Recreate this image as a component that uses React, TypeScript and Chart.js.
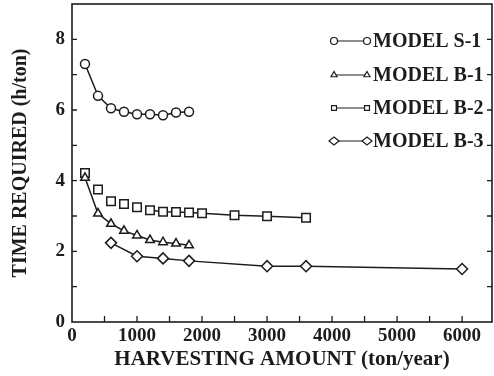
import React, { useEffect, useRef } from "react";
import { Chart, registerables } from "chart.js";

Chart.register(...registerables);

const seriesNames = ["MODEL S-1", "MODEL B-1", "MODEL B-2", "MODEL B-3"];
const pointStyles = ["circle", "triangle", "rect", "rectRot"];

const xS1 = [200, 400, 600, 800, 1000, 1200, 1400, 1600, 1800];
const yS1 = [7.3, 6.4, 6.05, 5.95, 5.88, 5.88, 5.85, 5.93, 5.95];

const xB1 = [200, 400, 600, 800, 1000, 1200, 1400, 1600, 1800];
const yB1 = [4.08, 3.07, 2.78, 2.58, 2.45, 2.32, 2.26, 2.22, 2.17];

const xB2 = [200, 400, 600, 800, 1000, 1200, 1400, 1600, 1800, 2000, 2500, 3000, 3600];
const yB2 = [4.22, 3.75, 3.42, 3.34, 3.25, 3.16, 3.12, 3.11, 3.1, 3.08, 3.02, 2.99, 2.95];

const xB3 = [600, 1000, 1400, 1800, 3000, 3600, 6000];
const yB3 = [2.24, 1.86, 1.8, 1.73, 1.58, 1.58, 1.5];

const xTickLabels = [0, 1000, 2000, 3000, 4000, 5000, 6000];
const yTickLabels = [0, 2, 4, 6, 8];

const INK = "#1c1c1c";
const SERIF = "'Liberation Serif', 'Times New Roman', serif";

function toPoints(xs: number[], ys: number[]) {
  return xs.map((x, i) => ({ x, y: ys[i] }));
}

function drawMarker(ctx: CanvasRenderingContext2D, style: string, x: number, y: number, r: number) {
  ctx.beginPath();
  if (style === "circle") {
    ctx.arc(x, y, r, 0, Math.PI * 2);
  } else if (style === "triangle") {
    ctx.moveTo(x, y - r);
    ctx.lineTo(x + r * Math.sin((2 * Math.PI) / 3), y - r * Math.cos((2 * Math.PI) / 3));
    ctx.lineTo(x + r * Math.sin((4 * Math.PI) / 3), y - r * Math.cos((4 * Math.PI) / 3));
    ctx.closePath();
  } else if (style === "rect") {
    const s = r * Math.SQRT1_2;
    ctx.rect(x - s, y - s, 2 * s, 2 * s);
  } else {
    ctx.moveTo(x - r, y);
    ctx.lineTo(x, y - r * 0.8);
    ctx.lineTo(x + r, y);
    ctx.lineTo(x, y + r * 0.8);
    ctx.closePath();
  }
  ctx.fillStyle = "#fff";
  ctx.fill();
  ctx.stroke();
}

const framePlugin = {
  id: "frameAndLegend",
  afterDraw(chart: any) {
    const ctx: CanvasRenderingContext2D = chart.ctx;
    const { left, right, top, bottom } = chart.chartArea;
    const xs = chart.scales.x;
    const ys = chart.scales.y;
    ctx.save();
    ctx.strokeStyle = INK;
    ctx.lineWidth = 1.6;
    ctx.strokeRect(left, top, right - left, bottom - top);
    ctx.lineWidth = 1.3;
    ctx.beginPath();
    for (const t of xs.ticks) {
      const px = xs.getPixelForValue(t.value);
      if (px <= left + 1 || px >= right - 1) continue;
      ctx.moveTo(px, bottom);
      ctx.lineTo(px, bottom - 6);
    }
    for (const t of ys.ticks) {
      const py = ys.getPixelForValue(t.value);
      if (py <= top + 1 || py >= bottom - 1) continue;
      ctx.moveTo(left, py);
      ctx.lineTo(left + 5, py);
      ctx.moveTo(right, py);
      ctx.lineTo(right - 5, py);
    }
    ctx.stroke();

    // legend
    const legendY = [41, 75, 108, 141];
    const x1 = 334;
    const x2 = 367;
    ctx.font = `bold 20px ${SERIF}`;
    ctx.textBaseline = "middle";
    ctx.textAlign = "left";
    chart.data.datasets.forEach((ds: any, i: number) => {
      const y = legendY[i];
      ctx.strokeStyle = INK;
      ctx.lineWidth = 1.2;
      ctx.beginPath();
      ctx.moveTo(x1, y);
      ctx.lineTo(x2, y);
      ctx.stroke();
      const r = ds.pointStyle === "rectRot" ? 5 : 3.5;
      drawMarker(ctx, ds.pointStyle, x1, y, r);
      drawMarker(ctx, ds.pointStyle, x2, y, r);
      ctx.fillStyle = INK;
      ctx.fillText(ds.label, 373, y + 1);
    });
    ctx.restore();
  },
};

export default function App() {
  const ref = useRef<HTMLCanvasElement | null>(null);

  useEffect(() => {
    if (!ref.current) return;
    const common = {
      borderColor: INK,
      borderWidth: 1.5,
      pointBackgroundColor: "#fff",
      pointBorderColor: INK,
      pointBorderWidth: 1.5,
      showLine: true,
      tension: 0,
      fill: false,
    };
    const chart = new Chart(ref.current, {
      type: "line",
      data: {
        datasets: [
          { ...common, label: seriesNames[0], data: toPoints(xS1, yS1), pointStyle: pointStyles[0], pointRadius: 4.5 },
          { ...common, label: seriesNames[1], data: toPoints(xB1, yB1), pointStyle: pointStyles[1], pointRadius: 5 },
          {
            ...common,
            label: seriesNames[2],
            data: toPoints(xB2, yB2),
            pointStyle: pointStyles[2],
            pointRadius: 6,
            segment: {
              borderColor: (c: any) => (c.p0DataIndex < 5 ? "rgba(0,0,0,0)" : INK),
            },
          },
          { ...common, label: seriesNames[3], data: toPoints(xB3, yB3), pointStyle: pointStyles[3], pointRadius: 5.5 },
        ],
      },
      options: {
        animation: false,
        responsive: true,
        maintainAspectRatio: false,
        layout: { autoPadding: false, padding: { top: 4, right: 2, left: 0, bottom: 0 } },
        plugins: {
          legend: { display: false },
          tooltip: { enabled: false },
        },
        scales: {
          x: {
            type: "linear",
            min: 0,
            max: 6460,
            afterFit: (s: any) => {
              s.height = 54;
              s.paddingLeft = 0;
              s.paddingRight = 0;
            },
            afterBuildTicks: (s: any) => {
              const out = [];
              for (let v = 0; v <= 6000; v += 500) out.push({ value: v });
              s.ticks = out;
            },
            grid: { display: false, drawTicks: false },
            border: { display: false },
            ticks: {
              padding: 3,
              color: INK,
              font: { family: SERIF, size: 19, weight: "bold" },
              maxRotation: 0,
              autoSkip: false,
              callback: (v: any) => (xTickLabels.includes(Number(v)) ? String(v) : ""),
            },
            title: {
              display: true,
              text: "HARVESTING AMOUNT (ton/year)",
              color: INK,
              font: { family: SERIF, size: 21, weight: "bold" },
              padding: { top: 0, bottom: 4 },
            },
          },
          y: {
            type: "linear",
            min: 0,
            max: 9,
            afterFit: (s: any) => {
              s.width = 72;
              s.paddingTop = 0;
              s.paddingBottom = 0;
            },
            afterBuildTicks: (s: any) => {
              const out = [];
              for (let v = 0; v <= 9; v += 1) out.push({ value: v });
              s.ticks = out;
            },
            grid: { display: false, drawTicks: false },
            border: { display: false },
            ticks: {
              padding: 7,
              color: INK,
              font: { family: SERIF, size: 19, weight: "bold" },
              autoSkip: false,
              callback: (v: any) => (yTickLabels.includes(Number(v)) ? String(v) : ""),
            },
            title: {
              display: true,
              text: "TIME REQUIRED (h/ton)",
              color: INK,
              font: { family: SERIF, size: 20, weight: "bold" },
              padding: { top: 9, bottom: 0 },
            },
          },
        },
      },
      plugins: [framePlugin],
    } as any);
    return () => chart.destroy();
  }, []);

  return (
    <div style={{ position: "fixed", left: 0, top: 0, width: 494, height: 376, background: "#fff" }}>
      <canvas ref={ref} />
    </div>
  );
}
